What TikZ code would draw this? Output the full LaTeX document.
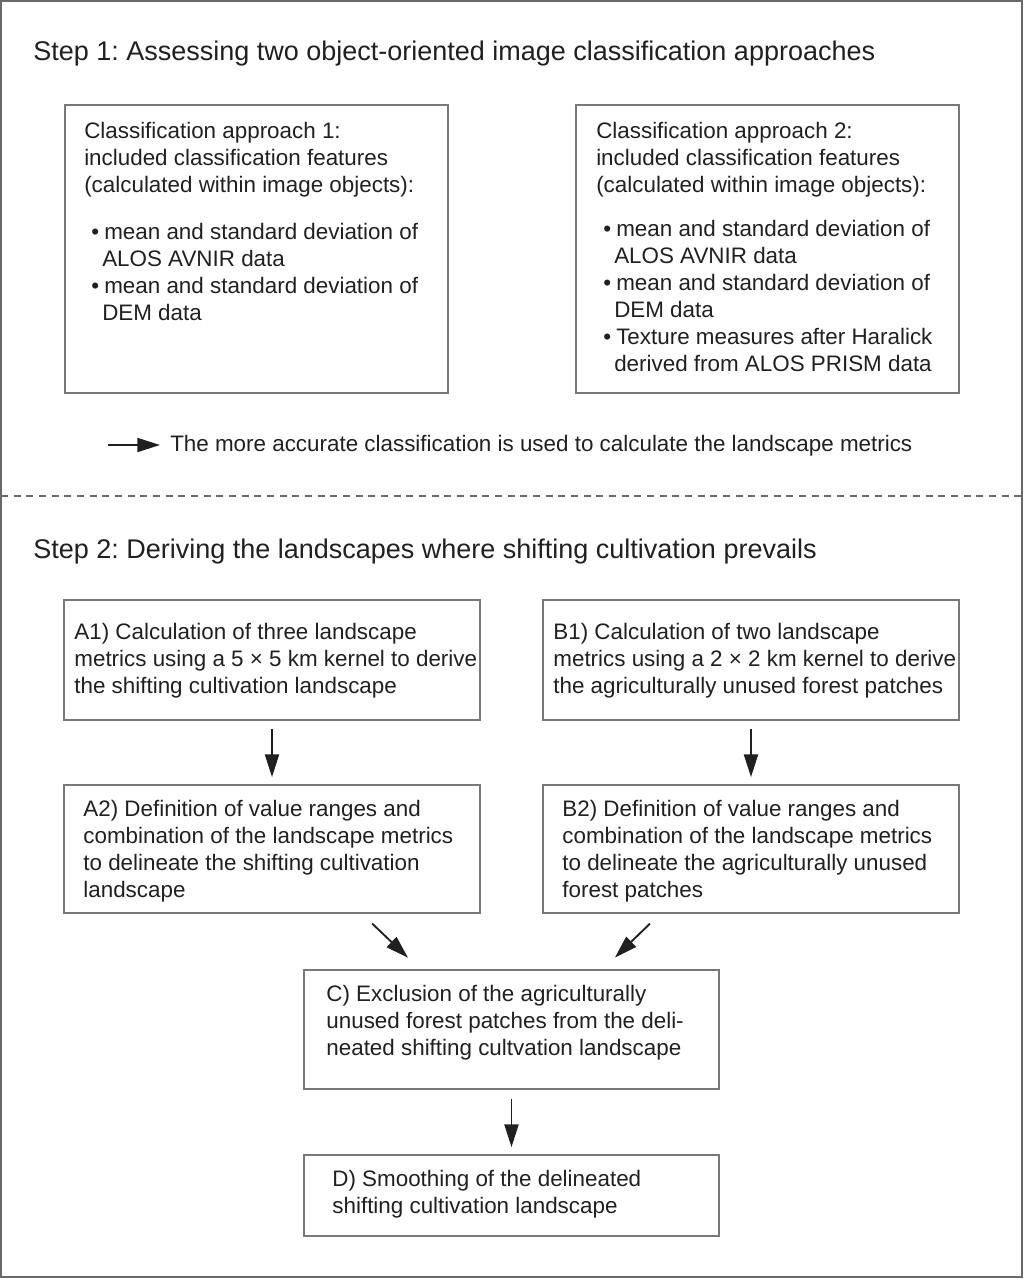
\documentclass[tikz,border=0pt]{standalone}
\usepackage{fontspec}
\setmainfont{Liberation Sans}
\usetikzlibrary{arrows.meta,calc}

\definecolor{framegray}{RGB}{105,105,105}
\definecolor{boxgray}{RGB}{120,120,120}
\definecolor{textgray}{RGB}{32,32,32}

\newcommand{\itm}{\hspace*{5.25pt}\makebox[9.75pt][l]{\textbullet}}
\newcommand{\cnt}{\hspace*{13.5pt}}

\tikzset{
  box/.style={draw=boxgray, line width=1.3pt, inner sep=0pt},
  txt/.style={inner sep=0pt, align=left, text=textgray, font=\fontsize{16.8pt}{20.25pt}\selectfont\frenchspacing},
  ttl/.style={inner sep=0pt, anchor=base west, text=textgray, font=\fontsize{20.25pt}{24pt}\selectfont\frenchspacing},
  arr/.style={-{Triangle[length=17pt,width=10.5pt]}, line width=1.4pt, textgray, shorten <=6pt, shorten >=5.25pt}
}

\begin{document}
\begin{tikzpicture}[x=0.75pt,y=0.75pt,yscale=-1,xscale=1]
\useasboundingbox (0,0) rectangle (1024,1279);

%Shape: Frame
\draw [framegray, line width=1.5pt] (1,1) rectangle (1022,1277);
%Straight Lines: separator
\draw [framegray, line width=1.5pt, dash pattern=on 5.25pt off 4.25pt] (1,496) -- (1022,496);

% Text Node
\node [ttl] (step1) at (33,60) {Step 1: Assessing two object-oriented image classification approaches};
% Text Node
\node [ttl] (step2) at (33,558) {Step 2: Deriving the landscapes where shifting cultivation prevails};

%Shape: Rectangle
\node [box, minimum width=287.25pt, minimum height=216pt] (appr1) at (256.5,249) {};
%Shape: Rectangle
\node [box, minimum width=287.25pt, minimum height=216pt] (appr2) at (767.5,249) {};

% Text Node
\node [txt, anchor=north west] (appr1text) at (84,122) {Classification approach 1:\\included classification features\\(calculated within image objects):\\[15pt]\itm mean and standard deviation of\\\cnt ALOS AVNIR data\\\itm mean and standard deviation of\\\cnt DEM data};
% Text Node
\node [txt, anchor=north west] (appr2text) at (596,122) {Classification approach 2:\\included classification features\\(calculated within image objects):\\[12.75pt]\itm mean and standard deviation of\\\cnt ALOS AVNIR data\\\itm mean and standard deviation of\\\cnt DEM data\\\itm Texture measures after Haralick\\\cnt derived from ALOS PRISM data};

% Text Node
\coordinate (notestart) at (108,445);
\node [txt, anchor=west] (note) at (170,446) {The more accurate classification is used to calculate the landscape metrics};
%Straight Lines
\draw [arr, shorten <=0pt, shorten >=7.5pt] (notestart) -- (note.west |- notestart);

%Shape: Rectangle
\node [box, minimum width=312pt, minimum height=90pt] (a1) at (272,660) {};
\node [box, minimum width=312pt, minimum height=90pt] (b1) at (751,660) {};
\node [box, minimum width=312pt, minimum height=96pt] (a2) at (272,849) {};
\node [box, minimum width=312pt, minimum height=96pt] (b2) at (751,849) {};
\node [box, minimum width=311.25pt, minimum height=89.25pt] (c) at (511.5,1029.5) {};
\node [box, minimum width=311.25pt, minimum height=60.75pt] (d) at (511.5,1195.5) {};

% Text Node
\node [txt, anchor=west] (a1text) at ($(a1.west)+(11,1)$) {A1) Calculation of three landscape\\metrics using a 5 × 5 km kernel to derive\\the shifting cultivation landscape};
% Text Node
\node [txt, anchor=west] (b1text) at ($(b1.west)+(11,1)$) {B1) Calculation of two landscape\\metrics using a 2 × 2 km kernel to derive\\the agriculturally unused forest patches};
% Text Node
\node [txt, anchor=west] (a2text) at ($(a2.west)+(20,2)$) {A2) Definition of value ranges and\\combination of the landscape metrics\\to delineate the shifting cultivation\\landscape};
% Text Node
\node [txt, anchor=west] (b2text) at ($(b2.west)+(20,2)$) {B2) Definition of value ranges and\\combination of the landscape metrics\\to delineate the agriculturally unused\\forest patches};
% Text Node
\node [txt, anchor=west] (ctext) at ($(c.west)+(23,-6.5)$) {C) Exclusion of the agriculturally\\unused forest patches from the deli-\\neated shifting cultvation landscape};
% Text Node
\node [txt, anchor=west] (dtext) at ($(d.west)+(29,-1)$) {D) Smoothing of the delineated\\shifting cultivation landscape};

%Straight Lines
\draw [arr] (a1) -- (a2);
\draw [arr] (b1) -- (b2);
\draw [arr, shorten <=10.5pt, shorten >=12.5pt] ($(a2.south)+(90,0)$) -- ($(c.north)+(-91.5,0)$);
\draw [arr, shorten <=10.5pt, shorten >=12.5pt] ($(b2.south)+(-91,0)$) -- ($(c.north)+(91.5,0)$);
\draw [arr, shorten <=6.75pt] (c) -- (d);

\end{tikzpicture}
\end{document}
